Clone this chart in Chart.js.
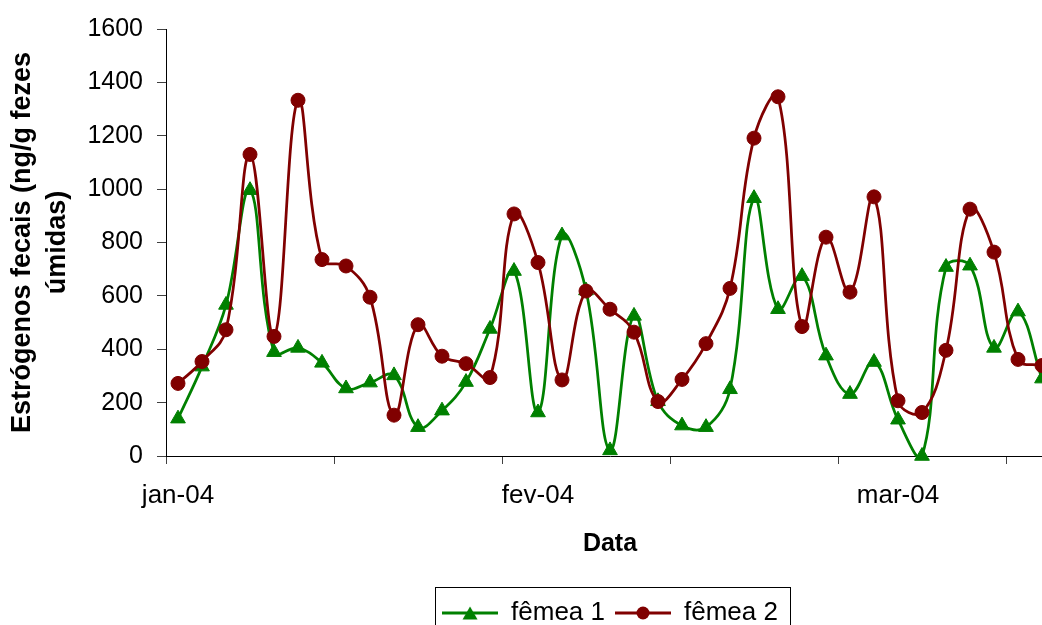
<!DOCTYPE html>
<html><head><meta charset="utf-8">
<script src="https://cdn.jsdelivr.net/npm/chart.js@4.4.0/dist/chart.umd.min.js"></script>
<style>
html,body{margin:0;padding:0;overflow:hidden;background:#fff;width:1042px;height:625px}
#wrap{position:absolute;left:0;top:0;width:1070px;height:640px}
canvas{display:block}
</style>
</head><body><div id="wrap"><canvas id="c" width="1070" height="640" style="width:1070px;height:640px"></canvas></div>
<script>
// Category labels (one per sample); only every 15th is shown, as in the reference
const categories = [
 'jan-04','jan-04','jan-04','jan-04','jan-04','jan-04','jan-04','jan-04','jan-04','jan-04','jan-04','jan-04','jan-04','jan-04','jan-04',
 'fev-04','fev-04','fev-04','fev-04','fev-04','fev-04','fev-04','fev-04','fev-04','fev-04','fev-04','fev-04','fev-04','fev-04','fev-04',
 'mar-04','mar-04','mar-04','mar-04','mar-04','mar-04','mar-04'
];
const femea1 = [140,335,566,996,389,405,349,253,275,302,108,170,277,476,693,163,826,620,21,525,205,114,108,250,966,550,674,376,232,352,136,0,708,713,405,541,290];
const femea2 = [272,354,473,1130,448,1333,736,712,595,153,492,374,346,294,907,725,285,618,550,464,204,287,421,628,1191,1346,485,820,614,971,207,163,396,925,764,362,339];
const yTitle = ['Estrógenos fecais (ng/g fezes','úmidas)'];
const xTitle = 'Data';
const seriesNames = ['fêmea 1','fêmea 2'];

const GREEN = '#008000', RED = '#800000';
const FONT = "'Liberation Sans', Arial, sans-serif";

function legendSample(color, kind){
  const c = document.createElement('canvas');
  c.width = 56; c.height = 20;
  const g = c.getContext('2d');
  g.strokeStyle = color; g.lineWidth = 3;
  g.beginPath(); g.moveTo(0,10); g.lineTo(56,10); g.stroke();
  g.fillStyle = color;
  g.beginPath();
  if (kind === 'triangle') {
    g.moveTo(28, 3.5); g.lineTo(35.5, 16.5); g.lineTo(20.5, 16.5); g.closePath();
  } else {
    g.arc(28, 10, 6.5, 0, Math.PI*2);
  }
  g.fill();
  return c;
}
const legendImgs = [legendSample(GREEN,'triangle'), legendSample(RED,'circle')];

const legendBorder = {
  id: 'legendBorder',
  afterDraw(chart){
    const lg = chart.legend;
    if (!lg || !lg.legendHitBoxes || !lg.legendHitBoxes.length) return;
    const hb = lg.legendHitBoxes;
    const l = Math.round(hb[0].left - 7);
    const last = hb[hb.length-1];
    const r = Math.round(last.left + last.width + 12);
    const t = Math.round(lg.top - 3);
    const ctx = chart.ctx;
    ctx.save();
    ctx.strokeStyle = '#000'; ctx.lineWidth = 1;
    ctx.strokeRect(l + 0.5, t + 0.5, r - l, 100);
    ctx.restore();
  }
};

Chart.defaults.font.family = FONT;
Chart.defaults.color = '#000';

new Chart(document.getElementById('c'), {
  type: 'line',
  data: {
    labels: categories,
    datasets: [
      { label: seriesNames[0], data: femea1, borderColor: GREEN, backgroundColor: GREEN,
        borderWidth: 2.75, pointStyle: 'triangle', pointRadius: 8.5, pointHoverRadius: 8.5,
        pointBorderWidth: 1, pointBorderColor: GREEN, pointBackgroundColor: GREEN,
        tension: 0.4, fill: false, clip: false, order: 1 },
      { label: seriesNames[1], data: femea2, borderColor: RED, backgroundColor: RED,
        borderWidth: 2.75, pointStyle: 'circle', pointRadius: 7, pointHoverRadius: 7,
        pointBorderWidth: 1, pointBorderColor: RED, pointBackgroundColor: RED,
        tension: 0.4, fill: false, clip: false, order: 0 }
    ]
  },
  options: {
    responsive: false,
    animation: false,
    devicePixelRatio: 1,
    events: [],
    layout: { padding: { left: 0, top: 27, right: 16, bottom: 4 } },
    elements: { line: { capBezierPoints: false } },
    scales: {
      x: {
        type: 'category',
        offset: true,
        ticks: {
          autoSkip: false, maxRotation: 0, minRotation: 0, padding: 16,
          color: '#000', font: { size: 26 },
          callback(v, i){ return i % 15 === 0 ? this.getLabelForValue(v) : ''; }
        },
        grid: {
          offset: true, drawOnChartArea: false, drawTicks: true, tickLength: 8,
          tickWidth: 1,
          tickColor: (ctx) => (ctx.index !== undefined && ctx.index % 7 === 0) ? '#404040' : 'rgba(0,0,0,0)'
        },
        border: { display: true, color: '#000', width: 1 },
        title: { display: true, text: xTitle, color: '#000',
          font: { size: 25, weight: 'bold' }, padding: { top: 0, bottom: 31 } },
        afterFit(s){ s.height = 134; }
      },
      y: {
        min: 0, max: 1600,
        ticks: { stepSize: 200, padding: 14, color: '#000', font: { size: 25 },
          callback: (v) => String(v) },
        grid: { drawOnChartArea: false, drawTicks: true, tickLength: 9, tickColor: '#404040' },
        border: { display: true, color: '#000', width: 1 },
        title: { display: true, text: yTitle, color: '#000',
          font: { size: 27, weight: 'bold', lineHeight: 1.3 }, padding: { top: 5, bottom: 0 } },
        afterFit(s){ s.width = 166; }
      }
    },
    plugins: {
      tooltip: { enabled: false },
      legend: {
        position: 'bottom',
        fullSize: false,
        labels: {
          usePointStyle: true,
          pointStyleWidth: 56,
          padding: 10,
          color: '#000',
          font: { size: 26 },
          sort: (a, b) => a.datasetIndex - b.datasetIndex,
          generateLabels(chart){
            const items = Chart.defaults.plugins.legend.labels.generateLabels(chart);
            items.forEach(it => { it.pointStyle = legendImgs[it.datasetIndex]; });
            return items;
          }
        }
      }
    }
  },
  plugins: [legendBorder]
});
</script>
</body></html>
